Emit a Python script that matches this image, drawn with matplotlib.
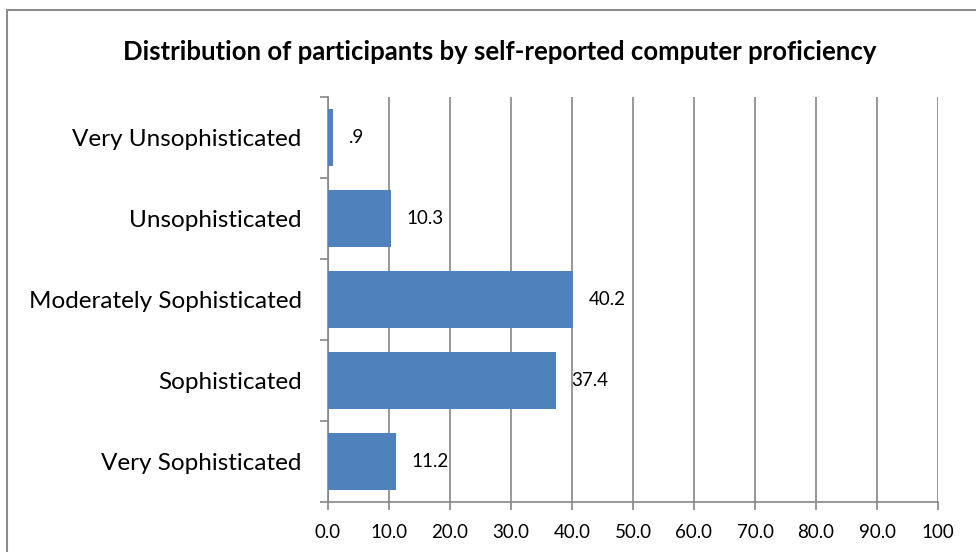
import matplotlib.pyplot as plt
from matplotlib.patches import Rectangle

plt.rcParams['font.family'] = ['Lato', 'DejaVu Sans']

# 数据
categories = ['Very Sophisticated', 'Sophisticated', 'Moderately Sophisticated',
              'Unsophisticated', 'Very Unsophisticated']
values = [11.2, 37.4, 40.2, 10.3, 0.9]
value_labels = ['11.2', '37.4', '40.2', '10.3', '.9']
xticks = [0, 10, 20, 30, 40, 50, 60, 70, 80, 90, 100]
xtick_labels = ['0.0', '10.0', '20.0', '30.0', '40.0', '50.0',
                '60.0', '70.0', '80.0', '90.0', '100']

grey = '#868686'
bar_color = '#4F81BD'

fig = plt.figure(figsize=(9.76, 5.52), dpi=100)
ax = fig.add_axes([328 / 976, 1 - 502 / 552, 610 / 976, 405 / 552])

# 外框
fig.patches.append(Rectangle((7 / 976, -0.1), 1.2, 1 - 10 / 552 + 0.1,
                             transform=fig.transFigure, fill=False,
                             edgecolor='#8c8c8c', linewidth=1.5))

ypos = list(range(len(categories)))
ax.barh(ypos, values, height=0.7, color=bar_color, zorder=3)

for y, v, lab in zip(ypos, values, value_labels):
    ax.annotate(lab, (v, y), xytext=(11, 0), textcoords='offset points',
                va='center', ha='left', fontsize=13.5)

ax.set_xlim(0, 100)
ax.set_ylim(-0.5, len(categories) - 0.5)
ax.set_xticks(xticks)
ax.set_xticklabels(xtick_labels, fontsize=13.5)
ax.xaxis.grid(True, color=grey, linewidth=1.2, zorder=0)

# 类别标签放在刻度之间
ax.set_yticks([y - 0.5 for y in ypos] + [len(categories) - 0.5])
ax.set_yticklabels([])
ax.set_yticks(ypos, minor=True)
ax.set_yticklabels(categories, minor=True, fontsize=17.5)
ax.tick_params(axis='y', which='minor', length=0, pad=19)
ax.tick_params(axis='y', which='major', length=6, width=1.2, color=grey)
ax.tick_params(axis='x', length=6, width=1.2, color=grey, pad=10)

for side in ['top', 'right']:
    ax.spines[side].set_visible(False)
for side in ['left', 'bottom']:
    ax.spines[side].set_color(grey)
    ax.spines[side].set_linewidth(1.2)

fig.text(500 / 976, 1 - 52 / 552, 'Distribution of participants by self-reported computer proficiency',
         ha='center', va='center', fontsize=18.5, fontweight='bold')

fig.savefig('out.png', dpi=100)
